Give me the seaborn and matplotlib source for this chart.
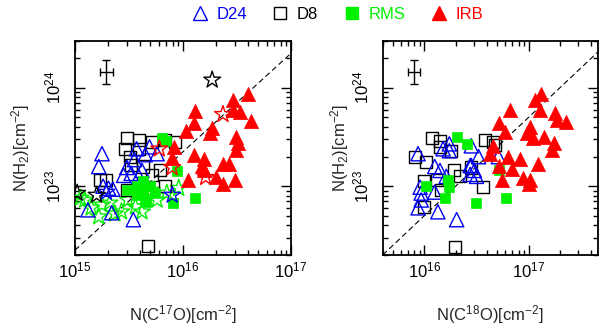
import numpy as np
import pandas as pd
import matplotlib
matplotlib.use("Agg")
import matplotlib.pyplot as plt
import seaborn as sns
from matplotlib.lines import Line2D
from matplotlib.ticker import LogLocator, NullFormatter

# log10 column densities
# left panel: N(C17O) vs N(H2)
irb_c17o = [16.60, 16.46, 16.46, 16.53, 16.11, 16.63, 16.10, 16.27, 16.03, 16.25, 16.49, 16.51, 16.49,
            15.92, 16.10, 16.19, 16.18, 16.19, 16.37, 16.43, 16.05, 16.31, 16.37, 16.48, 15.90]
irb_h2_a = [23.94, 23.88, 23.77, 23.75, 23.76, 23.66, 23.64, 23.59, 23.56, 23.54, 23.50, 23.44, 23.37,
            23.40, 23.32, 23.28, 23.21, 23.16, 23.23, 23.23, 23.06, 23.09, 23.02, 23.06, 23.29]
rms_c17o = [15.81, 15.84, 15.94, 15.91, 16.11, 15.48, 15.57, 15.63, 15.69, 15.63, 15.57, 15.74, 15.66]
rms_h2_a = [23.49, 23.46, 23.15, 22.83, 22.88, 22.96, 23.00, 22.93, 23.00, 23.05, 22.91, 22.93, 22.84]
d24_c17o = [15.25, 15.22, 15.45, 15.48, 15.52, 15.57, 15.59, 15.69, 15.76, 15.65, 15.55, 15.26,
            15.31, 15.35, 15.12, 15.34, 15.54, 15.62]
d24_h2_a = [23.33, 23.20, 23.11, 23.19, 23.13, 23.38, 23.10, 23.40, 23.33, 23.32, 23.27, 23.00,
            22.98, 22.97, 22.76, 22.73, 22.66, 23.16]
d8_c17o = [15.48, 15.59, 15.46, 15.59, 15.71, 15.83, 15.93, 15.51, 15.63, 15.52, 15.79, 15.23,
           15.29, 15.48, 15.71, 15.83, 15.68]
d8_h2_a = [23.49, 23.47, 23.38, 23.38, 23.45, 23.47, 23.45, 23.30, 23.20, 23.22, 23.16, 23.06,
           23.06, 22.96, 23.11, 23.00, 22.39]
# sources drawn as open stars in the left panel
irb_star_c17o = [16.37, 15.78, 15.90, 16.21]
irb_star_h2 = [23.73, 23.38, 23.19, 23.09]
d8_star_c17o = [16.27, 15.02, 15.20]
d8_star_h2 = [24.08, 22.93, 22.91]
d24_star_c17o = [15.90, 15.29]
d24_star_h2 = [22.91, 22.94]
rms_star_c17o = [15.05, 15.09, 15.15, 15.22, 15.25, 15.32, 15.43, 15.49, 15.56, 15.65, 15.76, 15.85,
                 15.96, 15.62, 15.37, 15.71, 15.60]
rms_star_h2 = [22.88, 22.86, 22.78, 22.69, 22.81, 22.83, 22.74, 22.86, 22.79, 22.89, 22.86, 22.93,
               22.98, 22.74, 22.72, 22.96, 22.99]

# right panel: N(C18O) vs N(H2)
irb_c18o = [17.12, 17.06, 17.11, 16.82, 17.25, 17.27, 17.36, 16.72, 16.77, 17.01, 16.98, 17.04, 17.15,
            17.24, 17.22, 16.66, 16.63, 16.80, 16.92, 17.09, 16.72, 16.84, 16.95, 17.01, 17.00, 16.74]
irb_h2_b = [23.94, 23.88, 23.77, 23.77, 23.74, 23.67, 23.65, 23.64, 23.55, 23.60, 23.54, 23.49, 23.50,
            23.44, 23.37, 23.41, 23.33, 23.30, 23.28, 23.23, 23.21, 23.17, 23.08, 23.06, 23.02, 23.06]
rms_c18o = [16.31, 16.41, 16.72, 16.78, 16.50, 16.20, 16.24, 16.23, 16.02]
rms_h2_b = [23.50, 23.43, 23.16, 22.88, 22.83, 22.88, 22.99, 23.06, 23.00]
d24_c18o = [15.94, 16.24, 16.18, 16.24, 16.45, 16.52, 16.71, 16.10, 16.21, 16.15, 16.44, 16.45, 16.48,
            16.50, 16.44, 15.96, 15.97, 16.10, 15.97, 15.94, 16.13, 16.31]
d24_h2_b = [23.33, 23.43, 23.38, 23.36, 23.41, 23.30, 23.30, 23.20, 23.10, 23.16, 23.21, 23.21, 23.16,
            23.10, 23.12, 22.99, 22.93, 22.94, 22.86, 22.78, 22.74, 22.66]
d8_c18o = [16.07, 16.15, 16.15, 15.91, 16.02, 16.58, 16.66, 16.68, 16.26, 16.28, 16.34, 16.45, 16.56,
           16.00, 16.12, 16.16, 16.00, 16.29]
d8_h2_b = [23.49, 23.46, 23.40, 23.30, 23.25, 23.47, 23.45, 23.42, 23.36, 23.16, 23.10, 23.19, 22.99,
           23.05, 23.06, 22.96, 22.79, 22.38]

# dashed reference lines, log10 N(H2)/N(CO isotopologue)
ratio_c17o = 7.35
ratio_c18o = 6.70
# typical error bar (dex) and where it is drawn
err_x_dex = 0.06
err_y_dex = 0.12
err_pos_a = (15.29, 24.16)
err_pos_b = (15.90, 24.16)

BLUE = "#0000ee"
GREEN = "#00f000"
RED = "#ff0000"

styles = {
    "D24": dict(color=BLUE, marker="^", s=105, open=True),
    "D8": dict(color="black", marker="s", s=75, open=True),
    "RMS": dict(color=GREEN, marker="s", s=60, open=False),
    "IRB": dict(color=RED, marker="^", s=105, open=False),
    "RMS*": dict(color=GREEN, marker="*", s=160, open=True),
    "D24*": dict(color=BLUE, marker="*", s=160, open=True),
    "D8*": dict(color="black", marker="*", s=160, open=True),
    "IRB*": dict(color=RED, marker="*", s=160, open=True),
}


def make_df(pairs):
    rows = []
    for name, xs, ys in pairs:
        for x, y in zip(xs, ys):
            rows.append({"group": name, "x": 10 ** x, "y": 10 ** y})
    return pd.DataFrame(rows)


left = make_df([
    ("RMS*", rms_star_c17o, rms_star_h2),
    ("D8", d8_c17o, d8_h2_a),
    ("D24", d24_c17o, d24_h2_a),
    ("RMS", rms_c17o, rms_h2_a),
    ("D24*", d24_star_c17o, d24_star_h2),
    ("IRB", irb_c17o, irb_h2_a),
    ("IRB*", irb_star_c17o, irb_star_h2),
    ("D8*", d8_star_c17o, d8_star_h2),
])
right = make_df([
    ("D8", d8_c18o, d8_h2_b),
    ("D24", d24_c18o, d24_h2_b),
    ("RMS", rms_c18o, rms_h2_b),
    ("IRB", irb_c18o, irb_h2_b),
])

sns.set_style("ticks")
plt.rcParams["font.family"] = ["Liberation Sans", "DejaVu Sans"]
plt.rcParams["mathtext.fontset"] = "custom"
plt.rcParams["mathtext.rm"] = "Liberation Sans"
plt.rcParams["mathtext.it"] = "Liberation Sans:italic"
plt.rcParams["mathtext.bf"] = "Liberation Sans:bold"

fig = plt.figure(figsize=(6, 3.28), dpi=100)
ax1 = fig.add_axes([0.125, 0.2226, 0.36, 0.653])
ax2 = fig.add_axes([0.638, 0.2226, 0.3583, 0.653])


def draw_panel(ax, df, xlim, ratio, err_pos, xlabel, ylabel_x):
    ax.set_xscale("log")
    ax.set_yscale("log")
    for name in df["group"].unique():
        st = styles[name]
        sub = df[df["group"] == name]
        if st["open"]:
            sns.scatterplot(data=sub, x="x", y="y", ax=ax, marker=st["marker"], s=st["s"],
                            facecolor="none", edgecolor=st["color"], linewidth=1.0, zorder=3)
        else:
            sns.scatterplot(data=sub, x="x", y="y", ax=ax, marker=st["marker"], s=st["s"],
                            color=st["color"], edgecolor=st["color"], linewidth=0.5, zorder=3)

    xx = np.array(xlim)
    ax.plot(xx, xx * 10 ** ratio, ls=(0, (5, 3)), color="black", lw=0.8, zorder=2)

    ex, ey = 10 ** err_pos[0], 10 ** err_pos[1]
    ax.errorbar(ex, ey,
                xerr=[[ex - ex / 10 ** err_x_dex], [ex * 10 ** err_x_dex - ex]],
                yerr=[[ey - ey / 10 ** err_y_dex], [ey * 10 ** err_y_dex - ey]],
                fmt="none", ecolor="black", elinewidth=1.0, capsize=3, capthick=1.0)

    ax.set_xlim(*xlim)
    ax.set_ylim(2e22, 3e24)
    ax.xaxis.set_minor_locator(LogLocator(base=10, subs=np.arange(2, 10), numticks=20))
    ax.yaxis.set_minor_locator(LogLocator(base=10, subs=np.arange(2, 10), numticks=20))
    ax.xaxis.set_minor_formatter(NullFormatter())
    ax.yaxis.set_minor_formatter(NullFormatter())
    ax.tick_params(which="both", direction="in", top=True, right=True, colors="black",
                   labelsize=12, width=1.0)
    ax.tick_params(which="major", length=7)
    ax.tick_params(which="minor", length=3.5)
    ax.tick_params(axis="x", pad=4)
    ax.tick_params(axis="y", pad=8, labelrotation=90)
    for lbl in ax.get_yticklabels():
        lbl.set_va("center")
    for sp in ax.spines.values():
        sp.set_linewidth(1.3)
        sp.set_color("black")

    ax.set_xlabel(xlabel, fontsize=12)
    ax.set_ylabel(r"N(H$_2$)[cm$^{-2}$]", fontsize=12)
    ax.xaxis.set_label_coords(0.5, -0.225)
    ax.yaxis.set_label_coords(ylabel_x, 0.5)


draw_panel(ax1, left, (1e15, 1e17), ratio_c17o, err_pos_a, r"N(C$^{17}$O)[cm$^{-2}$]", -0.20)
draw_panel(ax2, right, (4e15, 4.6e17), ratio_c18o, err_pos_b, r"N(C$^{18}$O)[cm$^{-2}$]", -0.15)

handles = [
    Line2D([], [], ls="none", marker="^", ms=10, mfc="none", mec=BLUE, mew=1.0),
    Line2D([], [], ls="none", marker="s", ms=8.5, mfc="none", mec="black", mew=1.0),
    Line2D([], [], ls="none", marker="s", ms=8, mfc=GREEN, mec=GREEN),
    Line2D([], [], ls="none", marker="^", ms=10, mfc=RED, mec=RED),
]
fig.legend(handles, ["D24", "D8", "RMS", "IRB"], loc="upper center", bbox_to_anchor=(0.562, 1.025),
           ncol=4, frameon=False, fontsize=12, handlelength=1.0, handletextpad=0.5,
           columnspacing=1.5, labelcolor=[BLUE, "black", GREEN, RED])

fig.savefig("out.png", dpi=100)
